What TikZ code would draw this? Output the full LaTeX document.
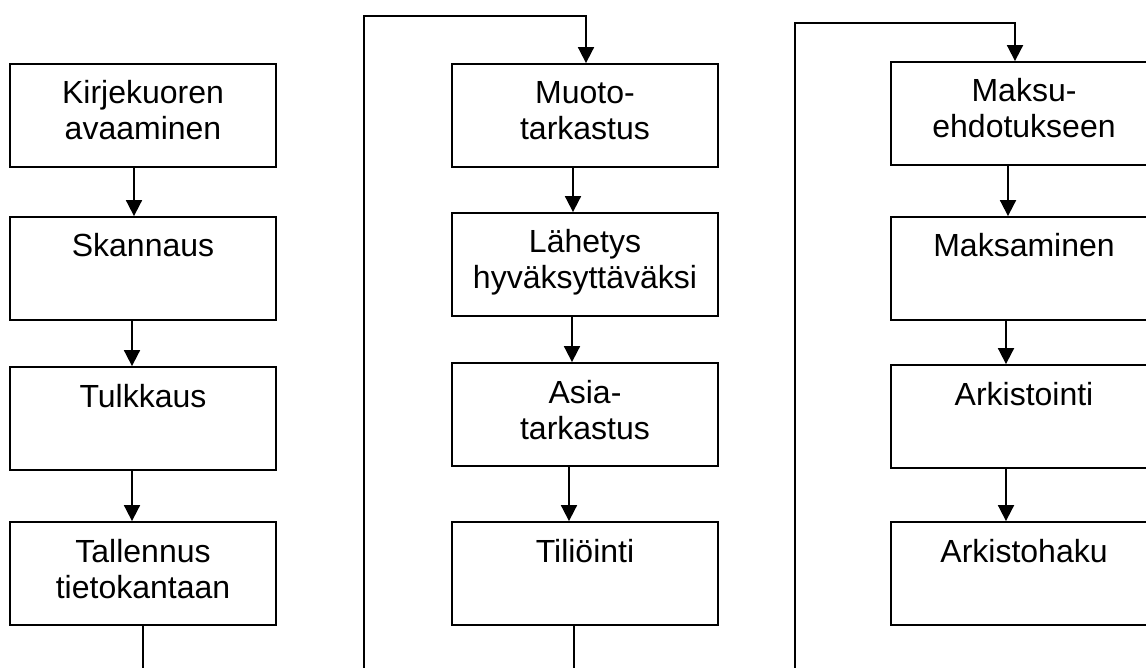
\documentclass[tikz,border=0pt]{standalone}
\usepackage{fontspec}
\setmainfont{Liberation Sans}
\usetikzlibrary{arrows.meta}
\newcommand{\bt}[1]{\parbox[c][103pt][t]{266pt}{\centering\fontsize{32}{36}\selectfont\rule{0pt}{40pt}#1}}
\begin{document}
\begin{tikzpicture}[x=1pt,y=1pt,
  box/.style={draw,line width=1.8pt,inner sep=0pt,minimum width=266pt,minimum height=103pt},
  arr/.style={line width=1.8pt,-{Triangle[width=16pt,length=16pt]}},
  ln/.style={line width=1.8pt}]
\useasboundingbox (0,0) rectangle (1146,-668);
% column 1
\node[box] (k1) at (143,-115.5) {\bt{Kirjekuoren\\avaaminen}};
\node[box] (k2) at (143,-268.5) {\bt{Skannaus}};
\node[box] (k3) at (143,-418.5) {\bt{Tulkkaus}};
\node[box] (k4) at (143,-573.5) {\bt{Tallennus\\tietokantaan}};
\coordinate (e1) at (143,-675);
\draw[arr] ([xshift=-9pt]k1.south) -- ([xshift=-9pt]k2.north);
\draw[arr] ([xshift=-11pt]k2.south) -- ([xshift=-11pt]k3.north);
\draw[arr] ([xshift=-11pt]k3.south) -- ([xshift=-11pt]k4.north);
\draw[ln] (k4.south) -- (e1);
% column 2
\node[box] (m1) at (585,-115.5) {\bt{Muoto-\\tarkastus}};
\node[box] (m2) at (585,-264.5) {\bt{Lähetys\\hyväksyttäväksi}};
\node[box] (m3) at (585,-414.5) {\bt{Asia-\\tarkastus}};
\node[box] (m4) at (585,-573.5) {\bt{Tiliöinti}};
\coordinate (s2) at (364,-675);
\coordinate (t2) at (364,-16);
\coordinate (e2) at (574,-675);
\draw[arr] (s2) -- (t2) -| ([xshift=1pt]m1.north);
\draw[arr] ([xshift=-12pt]m1.south) -- ([xshift=-12pt]m2.north);
\draw[arr] ([xshift=-13pt]m2.south) -- ([xshift=-13pt]m3.north);
\draw[arr] ([xshift=-16pt]m3.south) -- ([xshift=-16pt]m4.north);
\draw[ln] ([xshift=-11pt]m4.south) -- (e2);
% column 3
\node[box] (p1) at (1024,-113.5) {\bt{Maksu-\\ehdotukseen}};
\node[box] (p2) at (1024,-268.5) {\bt{Maksaminen}};
\node[box] (p3) at (1024,-416.5) {\bt{Arkistointi}};
\node[box] (p4) at (1024,-573.5) {\bt{Arkistohaku}};
\coordinate (s3) at (795,-675);
\coordinate (t3) at (795,-23);
\draw[arr] (s3) -- (t3) -| ([xshift=-9pt]p1.north);
\draw[arr] ([xshift=-16pt]p1.south) -- ([xshift=-16pt]p2.north);
\draw[arr] ([xshift=-18pt]p2.south) -- ([xshift=-18pt]p3.north);
\draw[arr] ([xshift=-18pt]p3.south) -- ([xshift=-18pt]p4.north);
\end{tikzpicture}
\end{document}
